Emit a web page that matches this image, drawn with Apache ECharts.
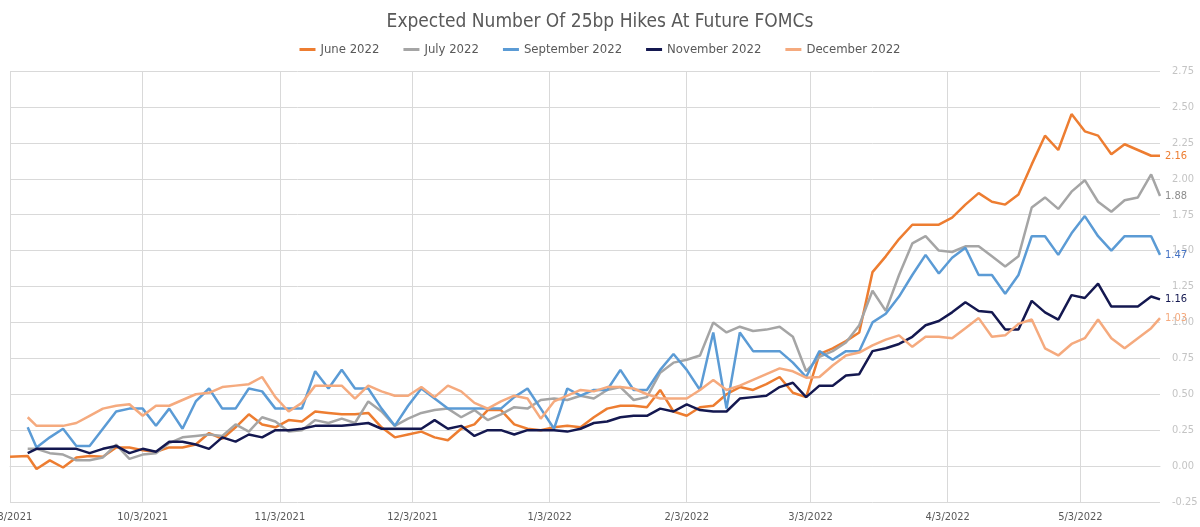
<!DOCTYPE html>
<html>
<head>
<meta charset="utf-8">
<title>Expected Number Of 25bp Hikes At Future FOMCs</title>
<script src="https://cdn.jsdelivr.net/npm/echarts@6.0.0/dist/echarts.min.js"></script>
<style>
  html, body { margin: 0; padding: 0; background: #fff; }
  #chart { width: 1200px; height: 527px; }
</style>
</head>
<body>
<div id="chart"></div>
<script>
// observation dates (roughly every 3 days)
const dates = [
  '2021-09-03', '2021-09-07', '2021-09-09', '2021-09-12', '2021-09-15', '2021-09-18', '2021-09-21', '2021-09-24', '2021-09-27', '2021-09-30',
  '2021-10-03', '2021-10-06', '2021-10-09', '2021-10-12', '2021-10-15', '2021-10-18', '2021-10-21', '2021-10-24', '2021-10-27', '2021-10-30',
  '2021-11-02', '2021-11-05', '2021-11-08', '2021-11-11', '2021-11-14', '2021-11-17', '2021-11-20', '2021-11-23', '2021-11-26', '2021-11-29',
  '2021-12-02', '2021-12-05', '2021-12-08', '2021-12-11', '2021-12-14', '2021-12-17', '2021-12-20', '2021-12-23', '2021-12-26', '2021-12-29',
  '2022-01-01', '2022-01-04', '2022-01-07', '2022-01-10', '2022-01-13', '2022-01-16', '2022-01-19', '2022-01-22', '2022-01-25', '2022-01-28',
  '2022-01-31', '2022-02-03', '2022-02-06', '2022-02-09', '2022-02-12', '2022-02-15', '2022-02-18', '2022-02-21', '2022-02-24', '2022-02-27',
  '2022-03-02', '2022-03-05', '2022-03-08', '2022-03-11', '2022-03-14', '2022-03-17', '2022-03-20', '2022-03-23', '2022-03-26', '2022-03-29',
  '2022-04-01', '2022-04-04', '2022-04-07', '2022-04-10', '2022-04-13', '2022-04-16', '2022-04-19', '2022-04-22', '2022-04-25', '2022-04-28',
  '2022-05-01', '2022-05-04', '2022-05-07', '2022-05-10', '2022-05-13', '2022-05-16', '2022-05-19', '2022-05-21'
];

const june2022 = [
  0.065, 0.07, -0.02, 0.04, -0.01, 0.06, 0.07, 0.065, 0.13, 0.13,
  0.11, 0.10, 0.13, 0.13, 0.15, 0.23, 0.19, 0.27, 0.36, 0.29,
  0.27, 0.32, 0.31, 0.38, 0.37, 0.36, 0.36, 0.37, 0.27, 0.20,
  0.22, 0.24, 0.20, 0.18, 0.26, 0.29, 0.39, 0.39, 0.29, 0.26,
  0.25, 0.27, 0.28, 0.27, 0.34, 0.40, 0.42, 0.42, 0.41, 0.53,
  0.38, 0.35, 0.41, 0.42, 0.50, 0.55, 0.53, 0.57, 0.62, 0.51,
  0.48, 0.78, 0.82, 0.87, 0.93, 1.35, 1.46, 1.58, 1.68, 1.68,
  1.68, 1.73, 1.82, 1.90, 1.84, 1.82, 1.89, 2.10, 2.30, 2.20,
  2.45, 2.33, 2.30, 2.17, 2.24, 2.20, 2.16, 2.16
];

const july2022 = [
  null, 0.12, 0.12, 0.09, 0.08, 0.04, 0.04, 0.06, 0.15, 0.05,
  0.08, 0.09, 0.16, 0.20, 0.21, 0.22, 0.21, 0.29, 0.24, 0.34,
  0.31, 0.24, 0.25, 0.32, 0.30, 0.33, 0.30, 0.45, 0.38, 0.28,
  0.33, 0.37, 0.39, 0.40, 0.34, 0.39, 0.32, 0.36, 0.41, 0.40,
  0.46, 0.47, 0.46, 0.49, 0.47, 0.53, 0.55, 0.46, 0.48, 0.65,
  0.72, 0.74, 0.77, 1.00, 0.93, 0.97, 0.94, 0.95, 0.97, 0.90,
  0.66, 0.76, 0.80, 0.86, 0.98, 1.22, 1.08, 1.33, 1.55, 1.60,
  1.50, 1.49, 1.53, 1.53, 1.46, 1.39, 1.46, 1.80, 1.87, 1.79,
  1.91, 1.99, 1.84, 1.77, 1.85, 1.87, 2.03, 1.88
];

const september2022 = [
  null, 0.27, 0.13, 0.20, 0.26, 0.14, 0.14, 0.26, 0.38, 0.40,
  0.40, 0.28, 0.40, 0.26, 0.45, 0.54, 0.40, 0.40, 0.54, 0.52,
  0.40, 0.40, 0.40, 0.66, 0.54, 0.67, 0.54, 0.54, 0.40, 0.28,
  0.42, 0.54, 0.47, 0.40, 0.40, 0.40, 0.40, 0.40, 0.48, 0.54,
  0.40, 0.26, 0.54, 0.49, 0.53, 0.53, 0.67, 0.53, 0.53, 0.67,
  0.78, 0.67, 0.53, 0.93, 0.40, 0.93, 0.80, 0.80, 0.80, 0.72,
  0.62, 0.80, 0.74, 0.80, 0.80, 1.00, 1.06, 1.18, 1.33, 1.47,
  1.34, 1.45, 1.52, 1.33, 1.33, 1.20, 1.33, 1.60, 1.60, 1.47,
  1.62, 1.74, 1.60, 1.50, 1.60, 1.60, 1.60, 1.47
];

const november2022 = [
  null, 0.09, 0.12, 0.12, 0.12, 0.12, 0.09, 0.12, 0.14, 0.09,
  0.12, 0.10, 0.17, 0.17, 0.15, 0.12, 0.20, 0.17, 0.22, 0.20,
  0.25, 0.25, 0.26, 0.28, 0.28, 0.28, 0.29, 0.30, 0.26, 0.26,
  0.26, 0.26, 0.32, 0.26, 0.28, 0.21, 0.25, 0.25, 0.22, 0.25,
  0.25, 0.25, 0.24, 0.26, 0.30, 0.31, 0.34, 0.35, 0.35, 0.40,
  0.38, 0.43, 0.39, 0.38, 0.38, 0.47, 0.48, 0.49, 0.55, 0.58,
  0.48, 0.56, 0.56, 0.63, 0.64, 0.80, 0.82, 0.85, 0.90, 0.98,
  1.01, 1.07, 1.14, 1.08, 1.07, 0.95, 0.95, 1.15, 1.07, 1.02,
  1.19, 1.17, 1.27, 1.11, 1.11, 1.11, 1.18, 1.16
];

const december2022 = [
  null, 0.34, 0.28, 0.28, 0.28, 0.30, 0.35, 0.40, 0.42, 0.43,
  0.35, 0.42, 0.42, 0.46, 0.50, 0.51, 0.55, 0.56, 0.57, 0.62,
  0.48, 0.38, 0.44, 0.56, 0.56, 0.56, 0.47, 0.56, 0.52, 0.49,
  0.49, 0.55, 0.48, 0.56, 0.52, 0.44, 0.40, 0.45, 0.49, 0.47,
  0.33, 0.45, 0.49, 0.53, 0.52, 0.55, 0.55, 0.54, 0.50, 0.47,
  0.47, 0.47, 0.53, 0.60, 0.53, 0.56, 0.60, 0.64, 0.68, 0.66,
  0.615, 0.62, 0.70, 0.77, 0.79, 0.84, 0.88, 0.91, 0.83, 0.90,
  0.90, 0.89, 0.96, 1.03, 0.90, 0.91, 0.99, 1.02, 0.82, 0.77,
  0.85, 0.89, 1.02, 0.89, 0.82, 0.89, 0.96, 1.03
];

const tickDates = [
  '2021-09-03', '2021-10-03', '2021-11-03', '2021-12-03', '2022-01-03',
  '2022-02-03', '2022-03-03', '2022-04-03', '2022-05-03'
];

const seriesNames = ['June 2022', 'July 2022', 'September 2022', 'November 2022', 'December 2022'];
const seriesValues = [june2022, july2022, september2022, november2022, december2022];
const seriesColors = ['#ED7D31', '#A5A5A5', '#5B9BD5', '#141850', '#F5AA7E'];
const endLabelColors = ['#ED7D31', '#8C8C8C', '#4472C4', '#141850', '#F5AA7E'];

const font = '"Liberation Sans Narrow", "DejaVu Sans Condensed", "Roboto", sans-serif';
const toTime = s => new Date(s + 'T00:00:00').getTime();
const fmtDate = t => {
  const d = new Date(t);
  return (d.getMonth() + 1) + '/' + d.getDate() + '/' + d.getFullYear();
};
const tickValues = tickDates.map(toTime);

const chart = echarts.init(document.getElementById('chart'), null, { renderer: 'canvas' });

chart.setOption({
  animation: false,
  backgroundColor: '#fff',
  title: {
    text: 'Expected Number Of 25bp Hikes At Future FOMCs',
    left: 'center',
    top: 8,
    textStyle: { color: '#595959', fontSize: 19, fontWeight: 'normal', fontFamily: font }
  },
  legend: {
    top: 38,
    left: 'center',
    icon: 'rect',
    itemWidth: 16,
    itemHeight: 3,
    itemGap: 24,
    textStyle: { color: '#595959', fontSize: 13, fontFamily: font },
    data: seriesNames
  },
  grid: { left: 10, right: 40, top: 71, bottom: 25, containLabel: false, outerBoundsMode: 'none' },
  xAxis: {
    // dates as timestamps on a value axis so the month ticks can sit on the 3rd
    type: 'value',
    min: toTime(dates[0]),
    max: toTime(dates[dates.length - 1]),
    axisLine: { lineStyle: { color: '#d9d9d9', width: 1 } },
    axisTick: { show: false, customValues: tickValues },
    axisLabel: {
      customValues: tickValues,
      formatter: fmtDate,
      color: '#595959',
      fontSize: 11,
      fontFamily: font,
      margin: 10
    },
    splitLine: { show: true, lineStyle: { color: '#d9d9d9', width: 1 } }
  },
  yAxis: {
    type: 'value',
    position: 'right',
    min: -0.25,
    max: 2.75,
    interval: 0.25,
    axisLine: { show: false },
    axisTick: { show: false },
    axisLabel: {
      color: '#c4c4c4',
      fontSize: 11,
      fontFamily: font,
      margin: 12,
      formatter: v => v.toFixed(2)
    },
    splitLine: { show: true, lineStyle: { color: '#d9d9d9', width: 1 } }
  },
  series: seriesNames.map((name, i) => ({
    name,
    type: 'line',
    data: dates.map((d, j) => [toTime(d), seriesValues[i][j]]),
    symbol: 'none',
    showSymbol: false,
    lineStyle: { color: seriesColors[i], width: 2.5 },
    itemStyle: { color: seriesColors[i] },
    emphasis: { disabled: true },
    endLabel: {
      show: true,
      distance: 5,
      color: endLabelColors[i],
      fontSize: 11,
      fontFamily: font,
      formatter: p => p.value[1].toFixed(2)
    }
  }))
});
</script>
</body>
</html>
